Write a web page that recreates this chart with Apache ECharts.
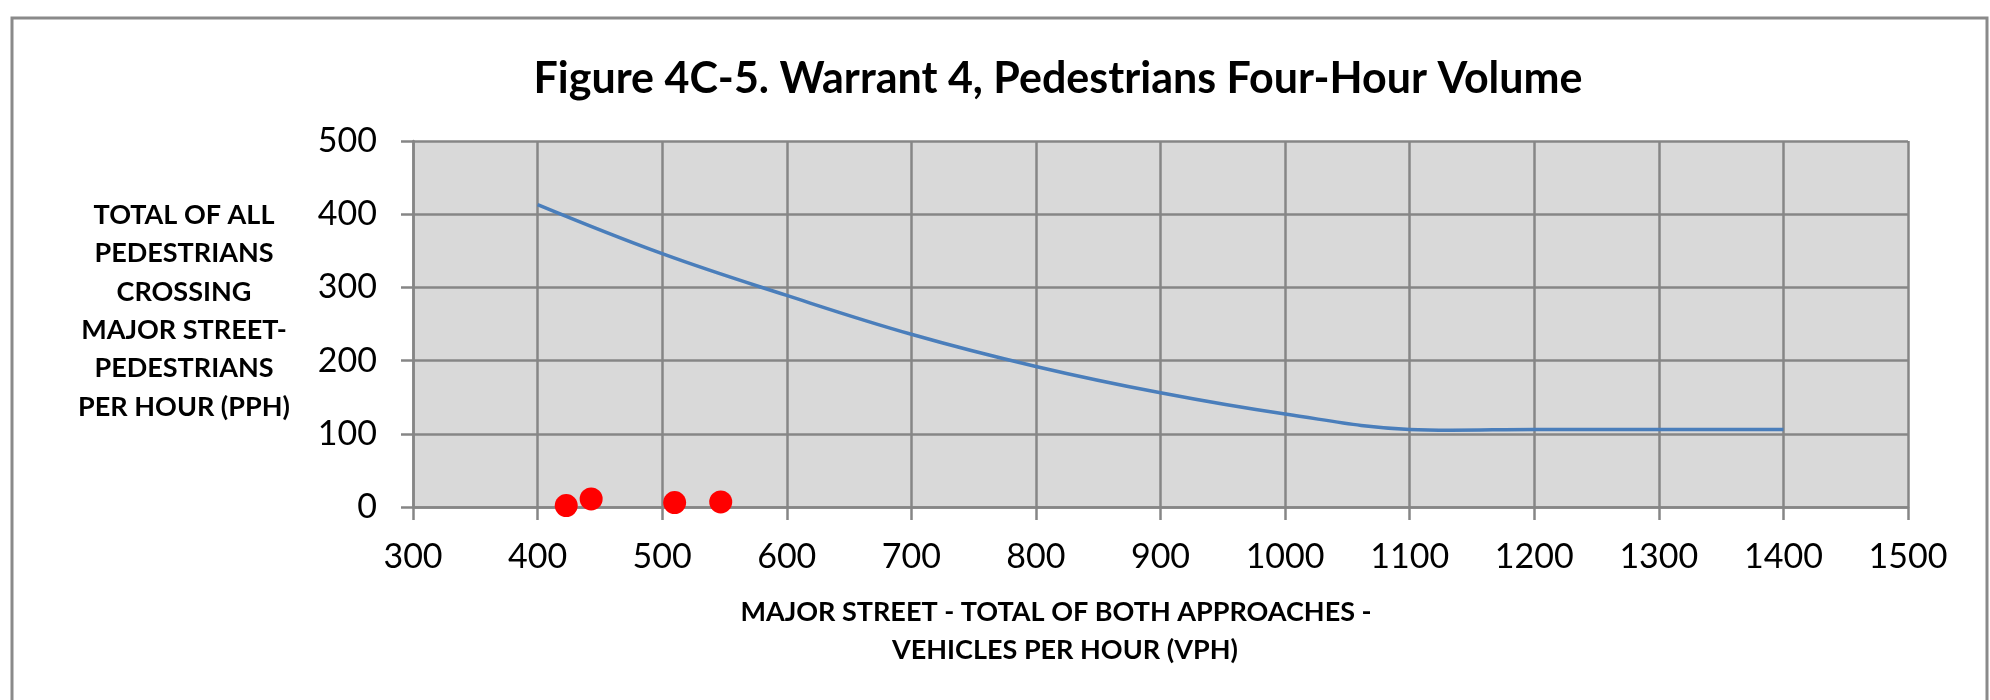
<!DOCTYPE html>
<html>
<head>
<meta charset="utf-8">
<script src="https://cdn.jsdelivr.net/npm/echarts@6/dist/echarts.min.js"></script>
<style>
  html, body { margin: 0; padding: 0; background: #fff; }
  #chart { width: 1990px; height: 700px; }
</style>
</head>
<body>
<div id="chart"></div>
<script>
// warrant curve
const curveX = [400, 500, 600, 700, 800, 900, 1000, 1100, 1133, 1200, 1300, 1400]
const curveY = [413, 346, 289, 236, 192, 156, 127, 106, 105, 106, 106, 106]

// observed counts (red dots)
const obsX = [423, 443, 510, 547]
const obsY = [2, 11, 6, 7]

const xTicks = [300, 400, 500, 600, 700, 800, 900, 1000, 1100, 1200, 1300, 1400, 1500]
const yTicks = [0, 100, 200, 300, 400, 500]

const titleText = 'Figure 4C-5. Warrant 4, Pedestrians Four-Hour Volume'
const yName = 'TOTAL OF ALL\nPEDESTRIANS\nCROSSING\nMAJOR STREET-\nPEDESTRIANS\nPER HOUR (PPH)'
const xName1 = 'MAJOR STREET - TOTAL OF BOTH APPROACHES -'
const xName2 = 'VEHICLES PER HOUR (VPH)'

const font = 'Lato, "Open Sans", sans-serif'
const gridColor = '#868686'

const chart = echarts.init(document.getElementById('chart'))

const option = {
	animation: false,
	backgroundColor: '#fff',
	grid: {
		left: 413,
		right: 82,
		top: 141,
		bottom: 193,
		show: true,
		backgroundColor: '#d9d9d9',
		borderWidth: 0
	},
	xAxis: {
		type: 'value',
		min: xTicks[0],
		max: xTicks[xTicks.length - 1],
		interval: 100,
		axisLine: { lineStyle: { color: gridColor, width: 2.5 } },
		axisTick: { show: true, length: 13, lineStyle: { color: gridColor, width: 2.5 } },
		splitLine: { show: true, lineStyle: { color: gridColor, width: 2.5 } },
		axisLabel: { color: '#000', fontFamily: font, fontSize: 34, margin: 33, formatter: v => String(v) }
	},
	yAxis: {
		type: 'value',
		min: yTicks[0],
		max: yTicks[yTicks.length - 1],
		interval: 100,
		axisLine: { show: true, lineStyle: { color: gridColor, width: 2.5 } },
		axisTick: { show: true, length: 12, lineStyle: { color: gridColor, width: 2.5 } },
		splitLine: { show: true, lineStyle: { color: gridColor, width: 2.5 } },
		axisLabel: { color: '#000', fontFamily: font, fontSize: 34, margin: 36 }
	},
	graphic: [
		{
			type: 'rect',
			silent: true,
			shape: { x: 12, y: 18, width: 1975, height: 720 },
			style: { fill: 'none', stroke: '#8a8a8a', lineWidth: 3 }
		},
		{
			type: 'text',
			x: 1058, y: 79,
			style: { text: titleText, fill: '#000', font: 'bold 43px ' + font, textAlign: 'center', textVerticalAlign: 'middle' }
		},
		{
			type: 'text',
			x: 184, y: 311,
			style: { text: yName, fill: '#000', font: 'bold 27px ' + font, lineHeight: 38.4, textAlign: 'center', textVerticalAlign: 'middle' }
		},
		{
			type: 'text',
			x: 1056, y: 612,
			style: { text: xName1, fill: '#000', font: 'bold 27px ' + font, textAlign: 'center', textVerticalAlign: 'middle' }
		},
		{
			type: 'text',
			x: 1065, y: 650,
			style: { text: xName2, fill: '#000', font: 'bold 27px ' + font, textAlign: 'center', textVerticalAlign: 'middle' }
		}
	],
	series: [
		{
			name: 'Warrant 4',
			type: 'line',
			smooth: 0.4,
			showSymbol: false,
			lineStyle: { color: '#4a7ebb', width: 3.5 },
			data: curveX.map((x, i) => [x, curveY[i]]),
			z: 3
		},
		{
			name: 'Observed',
			type: 'scatter',
			symbolSize: 23,
			itemStyle: { color: '#ff0000', opacity: 1 },
			data: obsX.map((x, i) => [x, obsY[i]]),
			z: 4
		}
	]
}

chart.setOption(option)
</script>
</body>
</html>
